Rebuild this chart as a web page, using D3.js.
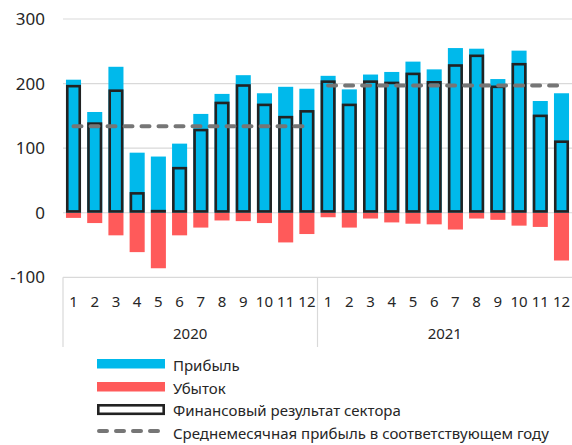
<!DOCTYPE html>
<html>
<head>
<meta charset="utf-8">
<script src="https://cdn.jsdelivr.net/npm/d3@7"></script>
<style>
  body { margin: 0; background: #fff; }
  svg text { font-family: "Noto Sans", sans-serif; fill: #262626; }
</style>
</head>
<body>
<div id="chart"></div>
<script>
// данные
const years = ["2020", "2021"];
const months = ["1","2","3","4","5","6","7","8","9","10","11","12"];
const profit = [206,156,226,93,87,107,153,184,213,185,195,192,
                212,191,214,218,234,222,255,254,207,251,173,185];
const loss = [-8,-16,-35,-61,-86,-35,-23,-12,-13,-16,-46,-33,
              -7,-23,-9,-15,-17,-18,-26,-9,-11,-20,-22,-74];
const result = [198,140,191,32,1,71,130,172,199,169,150,159,
                205,169,205,203,217,204,230,245,197,232,152,112];
const avgProfit = [134, 197];
const yTicks = [-100, 0, 100, 200, 300];

const width = 572, height = 445;
const plotLeft = 63, plotRight = 572, plotTop = 19, plotBottom = 277.3;

const svg = d3.select("#chart").append("svg")
    .attr("width", width)
    .attr("height", height);

const keys = [];
years.forEach(y => months.forEach(m => keys.push(y + "-" + m)));

const x = d3.scaleBand().domain(keys).range([plotLeft, plotRight]).paddingInner(0.29).paddingOuter(0.14);
const y = d3.scaleLinear().domain([-100, 300]).range([plotBottom, plotTop]);

// сетка
svg.append("g").selectAll("line").data(yTicks).join("line")
    .attr("x1", plotLeft).attr("x2", plotRight)
    .attr("y1", d => y(d)).attr("y2", d => y(d))
    .attr("stroke", "#d9d9d9").attr("stroke-width", 1.2);

svg.append("g").selectAll("text").data(yTicks).join("text")
    .attr("x", 45).attr("y", d => y(d))
    .attr("dy", "0.36em")
    .attr("text-anchor", "end")
    .attr("font-size", 17)
    .text(d => d);

// прибыль
svg.append("g").selectAll("rect").data(profit).join("rect")
    .attr("x", (d, i) => x(keys[i]))
    .attr("width", x.bandwidth())
    .attr("y", d => y(d))
    .attr("height", d => y(0) - y(d))
    .attr("fill", "#00b9eb");

// убыток
svg.append("g").selectAll("rect").data(loss).join("rect")
    .attr("x", (d, i) => x(keys[i]))
    .attr("width", x.bandwidth())
    .attr("y", y(0))
    .attr("height", d => y(d) - y(0))
    .attr("fill", "#ff5a5a");

// финансовый результат
const sw = 2.6;
svg.append("g").selectAll("rect").data(result).join("rect")
    .attr("x", (d, i) => x(keys[i]) + sw / 2)
    .attr("width", x.bandwidth() - sw)
    .attr("y", d => Math.min(y(d) + sw / 2, y(0) - sw / 2 - 0.3))
    .attr("height", d => Math.max(0.3, y(0) - y(d) - sw))
    .attr("fill", "#00b9eb")
    .attr("stroke", "#222")
    .attr("stroke-width", sw);

// средняя прибыль
years.forEach((yr, j) => {
    const x1 = x(yr + "-1") + x.bandwidth() / 2;
    const x2 = x(yr + "-12") + x.bandwidth() / 2;
    svg.append("line")
        .attr("x1", x1).attr("x2", x2)
        .attr("y1", y(avgProfit[j])).attr("y2", y(avgProfit[j]))
        .attr("stroke", "#767676")
        .attr("stroke-width", 4)
        .attr("stroke-linecap", "round")
        .attr("stroke-dasharray", "8,9");
});

// ось категорий
const sepX = [plotLeft, x(years[1] + "-1") - x.step() * x.paddingInner() / 2];
svg.append("g").selectAll("line").data(sepX).join("line")
    .attr("x1", d => d).attr("x2", d => d)
    .attr("y1", plotBottom).attr("y2", 347)
    .attr("stroke", "#d9d9d9").attr("stroke-width", 1.2);

svg.append("g").selectAll("text").data(keys).join("text")
    .attr("x", d => x(d) + x.bandwidth() / 2)
    .attr("y", 302)
    .attr("dy", "0.36em")
    .attr("text-anchor", "middle")
    .attr("font-size", 15)
    .text(d => d.split("-")[1]);

svg.append("g").selectAll("text").data(years).join("text")
    .attr("x", d => (x(d + "-1") + x(d + "-12") + x.bandwidth()) / 2)
    .attr("y", 334)
    .attr("dy", "0.36em")
    .attr("text-anchor", "middle")
    .attr("font-size", 15)
    .text(d => d);

// легенда
const lg = svg.append("g");
lg.append("rect").attr("x", 97).attr("y", 359).attr("width", 68).attr("height", 9.5).attr("fill", "#00b9eb");
lg.append("rect").attr("x", 97).attr("y", 382).attr("width", 68).attr("height", 9.5).attr("fill", "#ff5a5a");
lg.append("rect").attr("x", 98.3).attr("y", 405.3).attr("width", 65.4).attr("height", 8.5)
    .attr("fill", "#fff").attr("stroke", "#222").attr("stroke-width", sw);
lg.append("line").attr("x1", 99).attr("x2", 166).attr("y1", 431).attr("y2", 431)
    .attr("stroke", "#767676").attr("stroke-width", 4)
    .attr("stroke-linecap", "round").attr("stroke-dasharray", "8,9");

const legendText = ["Прибыль", "Убыток", "Финансовый результат сектора", "Среднемесячная прибыль в соответствующем году"];
const legendY = [366, 389, 411, 434];
lg.selectAll("text").data(legendText).join("text")
    .attr("x", 173)
    .attr("y", (d, i) => legendY[i])
    .attr("dy", "0.36em")
    .attr("font-size", 15)
    .text(d => d);
</script>
</body>
</html>
